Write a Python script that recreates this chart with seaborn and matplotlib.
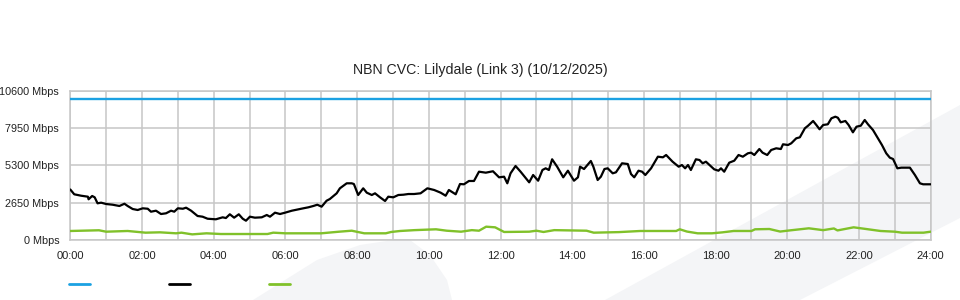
import matplotlib
matplotlib.use("Agg")
import matplotlib.pyplot as plt
import seaborn as sns
import pandas as pd
from matplotlib.patches import Polygon
from matplotlib.lines import Line2D
from matplotlib.ticker import FixedLocator, MultipleLocator

# ---------------- data ----------------
title = "NBN CVC: Lilydale (Link 3) (10/12/2025)"
y_ticks = [0, 2650, 5300, 7950, 10600]
y_tick_labels = [f"{v} Mbps" for v in y_ticks]
x_ticks = list(range(0, 25, 2))
x_tick_labels = [f"{h:02d}:00" for h in x_ticks]

capacity_hours = [0, 24]
capacity_mbps = [10000, 10000]

traffic_hours = [
    0.0, 0.11, 0.30, 0.49, 0.51, 0.61, 0.68, 0.76, 0.86, 1.00, 1.18, 1.37, 1.51, 1.60,
    1.74, 1.88, 2.02, 2.16, 2.25, 2.39, 2.53, 2.67, 2.81, 2.90, 3.00, 3.14, 3.23, 3.37,
    3.55, 3.69, 3.83, 4.06, 4.25, 4.34, 4.45, 4.57, 4.70, 4.81, 4.90, 5.01, 5.15, 5.34,
    5.48, 5.57, 5.71, 5.85, 5.99, 6.18, 6.36, 6.50, 6.64, 6.78, 6.89, 7.01, 7.15, 7.24,
    7.43, 7.52, 7.71, 7.85, 7.91, 8.03, 8.17, 8.27, 8.41, 8.50, 8.64, 8.78, 8.87, 9.01,
    9.15, 9.29, 9.43, 9.59, 9.77, 9.96, 10.15, 10.33, 10.47, 10.56, 10.75, 10.87, 10.98,
    11.12, 11.26, 11.40, 11.59, 11.79, 11.96, 12.10, 12.19, 12.28, 12.42, 12.56, 12.80,
    12.91, 13.05, 13.17, 13.26, 13.35, 13.44, 13.58, 13.75, 13.88, 14.05, 14.16, 14.22,
    14.33, 14.52, 14.59, 14.71, 14.80, 14.90, 14.99, 15.13, 15.22, 15.39, 15.55, 15.64,
    15.73, 15.85, 15.95, 16.04, 16.20, 16.39, 16.53, 16.62, 16.80, 16.97, 17.06, 17.15,
    17.23, 17.31, 17.45, 17.55, 17.64, 17.73, 17.96, 18.08, 18.15, 18.24, 18.38, 18.52,
    18.64, 18.76, 18.90, 18.99, 19.08, 19.22, 19.31, 19.44, 19.55, 19.69, 19.82, 19.88,
    20.02, 20.11, 20.25, 20.35, 20.49, 20.58, 20.72, 20.81, 20.90, 21.00, 21.13, 21.23,
    21.34, 21.41, 21.49, 21.62, 21.71, 21.83, 21.93, 22.05, 22.16, 22.25, 22.39, 22.53,
    22.64, 22.76, 22.86, 22.95, 23.07, 23.18, 23.42, 23.56, 23.70, 23.79, 24.00,
]
traffic_mbps = [
    3585, 3245, 3145, 3075, 2890, 3125, 3030, 2605, 2650, 2555, 2505, 2415, 2575, 2415,
    2200, 2130, 2250, 2220, 2010, 2080, 1845, 1895, 2080, 2010, 2250, 2220, 2295, 2080,
    1705, 1655, 1510, 1470, 1610, 1560, 1825, 1585, 1825, 1510, 1370, 1655, 1585, 1610,
    1775, 1655, 1940, 1845, 1940, 2080, 2180, 2250, 2320, 2415, 2505, 2365, 2790, 2910,
    3315, 3670, 4025, 4025, 3975, 3195, 3670, 3360, 3195, 3315, 3030, 2770, 3075, 3030,
    3195, 3215, 3265, 3265, 3315, 3670, 3550, 3360, 3145, 3550, 3245, 3975, 3955,
    4190, 4190, 4850, 4780, 4880, 4450, 4495, 4025, 4735, 5255, 4850, 4095,
    4615, 4210, 4970, 5090, 4970, 5730, 5205, 4450, 4920, 4210, 4450, 5205,
    5040, 5610, 5205, 4260, 4495, 5040, 5090, 4735, 4805, 5445, 5395, 4685,
    4450, 4920, 4850, 4615, 5090, 5915, 5870, 6035, 5560, 5205, 5325, 5090,
    5325, 4970, 5730, 5680, 5445, 5560, 5020, 4920, 5090, 4850, 5490, 5630,
    6035, 5915, 6155, 6200, 6035, 6460, 6200, 6035, 6390, 6510, 6460, 6795,
    6745, 6865, 7220, 7290, 7930, 8115, 8450, 8165, 7860, 8165, 8215, 8640,
    8755, 8680, 8355, 8450, 8165, 7645, 8045, 8115, 8520, 8215, 7810, 7220,
    6745, 6155, 5845, 5750, 5090, 5135, 5135, 4615, 4025, 3955, 3955,
]

green_hours = [
    0, 0.8, 1.0, 1.6, 2.1, 2.5, 2.95, 3.1, 3.4, 3.8, 4.2, 5.0, 5.5, 5.66, 6.0, 7.0,
    7.5, 7.85, 8.2, 8.8, 8.95, 9.2, 9.6, 10.2, 10.5, 10.9, 11.2, 11.4, 11.6, 11.85,
    12.1, 12.8, 13.0, 13.2, 13.5, 14.4, 14.6, 15.3, 15.9, 16.9, 17.0, 17.2, 17.5,
    17.9, 18.2, 18.5, 19.0, 19.1, 19.5, 19.8, 20.1, 20.6, 21.0, 21.3, 21.4, 21.85,
    22.2, 22.6, 23.0, 23.2, 23.8, 24.0,
]
green_mbps = [
    640, 690, 590, 640, 520, 545, 475, 520, 400, 475, 425, 425, 425, 520, 475, 475,
    590, 660, 475, 475, 570, 640, 700, 760, 660, 590, 700, 660, 945, 900,
    570, 590, 660, 570, 700, 660, 520, 560, 640, 640, 760, 600, 475,
    475, 545, 640, 640, 760, 780, 600, 690, 830, 700, 820, 680, 900,
    780, 640, 590, 520, 520, 590,
]

# ---------------- style ----------------
sns.set_style("white")
plt.rcParams["font.family"] = ["Liberation Sans", "DejaVu Sans"]

BLUE = "#1ba1e2"
BLACK = "#000000"
GREEN = "#80c12a"
GRID = "#c6c6c6"
TXT = "#222222"
WASH = "#f4f5f7"

W, H = 960, 300
fig = plt.figure(figsize=(9.6, 3.0), dpi=100)
fig.patch.set_facecolor("white")

def fp(pts):
    return [(x / W, 1 - y / H) for x, y in pts]

# background watermark shapes (behind everything)
fig.patches.append(Polygon(fp([(605, 300), (960, 105), (960, 218), (800, 300)]),
                           closed=True, transform=fig.transFigure,
                           facecolor=WASH, edgecolor="none", zorder=-10))
fig.patches.append(Polygon(fp([(253, 300), (317, 260), (360, 245), (400, 239), (410, 240),
                               (430, 255), (447, 280), (452, 300)]),
                           closed=True, transform=fig.transFigure,
                           facecolor=WASH, edgecolor="none", zorder=-10))

left, right, bottom, top = 70.3, 930.7, 240, 90.7
ax = fig.add_axes([left / W, 1 - bottom / H, (right - left) / W, (bottom - top) / H])
ax.set_facecolor("none")
ax.set_zorder(1)

df_cap = pd.DataFrame({"hour": capacity_hours, "mbps": capacity_mbps})
df_tr = pd.DataFrame({"hour": traffic_hours, "mbps": traffic_mbps})
df_gr = pd.DataFrame({"hour": green_hours, "mbps": green_mbps})

sns.lineplot(data=df_cap, x="hour", y="mbps", color=BLUE, lw=1.7, ax=ax,
             estimator=None, sort=False, legend=False, zorder=3)
sns.lineplot(data=df_gr, x="hour", y="mbps", color=GREEN, lw=1.7, ax=ax,
             estimator=None, sort=False, legend=False, zorder=3)
sns.lineplot(data=df_tr, x="hour", y="mbps", color=BLACK, lw=1.6, ax=ax,
             estimator=None, sort=False, legend=False, zorder=4)

ax.set_xlim(0, 24)
ax.set_ylim(0, 10600)
ax.set_xlabel("")
ax.set_ylabel("")

ax.xaxis.set_major_locator(FixedLocator(x_ticks))
ax.xaxis.set_minor_locator(MultipleLocator(1))
ax.set_xticks(x_ticks)
ax.set_xticklabels(x_tick_labels)
ax.set_yticks(y_ticks)
ax.set_yticklabels(y_tick_labels)

ax.grid(True, which="both", axis="x", color=GRID, lw=1.1, zorder=1)
ax.grid(True, which="major", axis="y", color=GRID, lw=1.1, zorder=1)
ax.set_axisbelow(True)

ax.tick_params(axis="x", which="major", length=6, width=1.1, color=GRID,
               labelsize=8, labelcolor=TXT, pad=2, direction="out")
ax.tick_params(axis="x", which="minor", length=0)
ax.tick_params(axis="y", which="both", length=0, labelsize=7.8, labelcolor=TXT, pad=8)

for s in ax.spines.values():
    s.set_color(GRID)
    s.set_linewidth(1.1)

fig.text(0.5, 1 - 70 / H, title, ha="center", va="center", fontsize=10.2, color=TXT)

handles = [Line2D([], [], color=c, lw=2) for c in (BLUE, BLACK, GREEN)]
fig.legend(handles, ["", "", ""], loc="center left",
           bbox_to_anchor=(69 / W, 1 - 285 / H), ncol=3, frameon=False,
           handlelength=1.9, handletextpad=0, columnspacing=7.1,
           borderpad=0, borderaxespad=0, fontsize=8)

fig.savefig("out.png", dpi=100, facecolor="white")
